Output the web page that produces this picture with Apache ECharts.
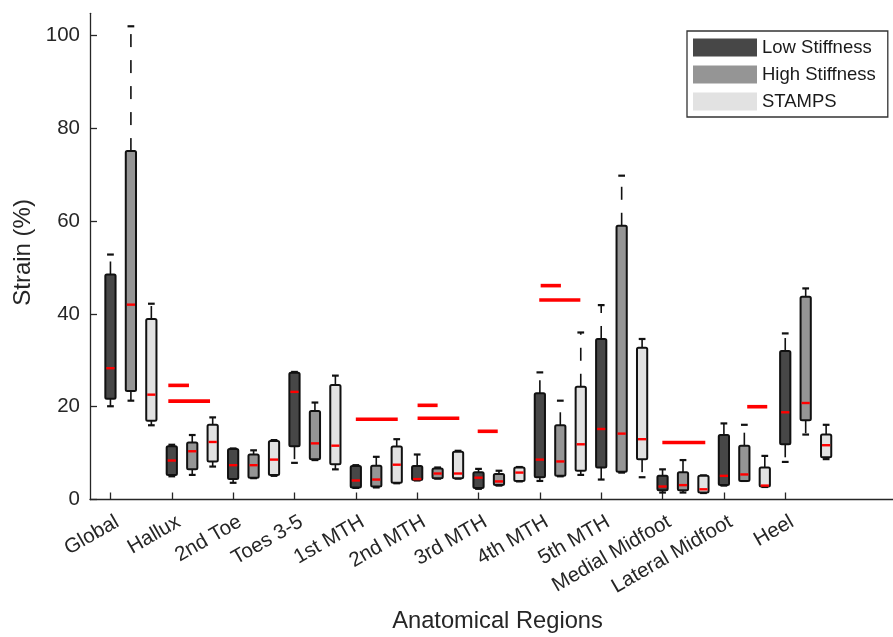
<!DOCTYPE html>
<html><head><meta charset="utf-8">
<script src="https://cdn.jsdelivr.net/npm/echarts@6/dist/echarts.min.js"></script>
<style>html,body{margin:0;padding:0;background:#fff}#c{width:893px;height:637px}</style>
</head><body><div id="c"></div>
<script>
// ---- DATA ----
const regions = ['Global','Hallux','2nd Toe','Toes 3-5','1st MTH','2nd MTH','3rd MTH','4th MTH','5th MTH','Medial Midfoot','Lateral Midfoot','Heel'];
const seriesNames = ['Low Stiffness','High Stiffness','STAMPS'];
// [lower whisker, Q1, median, Q3, upper whisker]
const lowStiffness = [
  [20.1,21.7,28.3,48.5,52.8],
  [5.0,5.3,8.4,11.5,11.8],
  [3.6,4.4,7.4,10.9,11.0],
  [7.9,11.5,23.2,27.3,27.5],
  [2.5,2.6,4.1,7.2,7.4],
  [4.1,4.2,4.4,7.2,9.7],
  [2.3,2.5,4.7,5.9,6.6],
  [4.0,4.8,8.6,22.9,27.4],
  [4.3,6.9,15.2,34.6,41.9],
  [1.5,2.0,2.8,5.1,6.5],
  [3.0,3.1,5.1,13.9,16.4],
  [8.1,11.9,18.8,32.0,35.8]
];
const highStiffness = [
  [21.3,23.4,42.0,75.1,102.0],
  [5.3,6.5,10.4,12.3,13.9],
  [4.6,4.7,7.4,9.7,10.6],
  [8.5,8.7,12.1,19.1,20.9],
  [2.6,2.8,4.3,7.3,9.2],
  [4.5,4.6,5.6,6.7,6.9],
  [3.0,3.1,3.9,5.5,6.2],
  [5.0,5.1,8.2,16.0,21.3],
  [5.8,6.0,14.2,59.0,69.8],
  [1.5,2.0,3.1,5.9,8.5],
  [4.0,4.0,5.4,11.6,16.1],
  [14.0,17.1,20.8,43.7,45.5]
];
const stamps = [
  [16.0,17.0,22.6,38.9,42.2],
  [7.1,8.2,12.4,16.1,17.7],
  [5.1,5.3,8.6,12.6,12.8],
  [6.5,7.6,11.6,24.7,26.7],
  [3.5,3.6,7.5,11.4,13.0],
  [4.5,4.6,5.6,10.3,10.5],
  [3.9,4.0,5.8,6.9,7.0],
  [5.3,6.2,11.9,24.3,36.0],
  [4.8,8.7,13.0,32.7,34.6],
  [1.4,1.5,2.2,5.1,5.2],
  [2.7,2.8,3.0,6.9,9.4],
  [8.7,9.1,11.7,14.0,16.1]
];
// reference values (red segments): [x start, x end, strain]
const referenceLines = [
  [3.83,4.84,24.6],[3.83,5.87,21.2],
  [13.0,15.05,17.3],
  [16.02,17.0,20.3],[16.02,18.06,17.5],
  [18.96,19.94,14.7],
  [22.04,23.03,46.1],[21.97,23.98,43.0],
  [27.99,30.09,12.3],
  [32.14,33.12,20.0]
];
const yTicks = [0,20,40,60,80,100];

// ---- STYLE ----
const FONT = '"Liberation Sans", Arial, Helvetica, sans-serif';
const TXT = '#262626';
const fills = ['#474747','#959595','#e2e2e2'];
const BOX_W = 0.5, CAP_W = 0.33;

function boxData(arr, offset){
  return arr.map((v,i)=>[i*3+1+offset].concat(v));
}
const xTickVals = regions.map((r,i)=>i*3+1);

function renderBox(params, api){
  const x = api.value(0);
  const unit = api.size([1,0])[0];
  const bw = BOX_W*unit, cw = CAP_W*unit;
  const pLo = api.coord([x, api.value(1)]);
  const pQ1 = api.coord([x, api.value(2)]);
  const pMed = api.coord([x, api.value(3)]);
  const pQ3 = api.coord([x, api.value(4)]);
  const pHi = api.coord([x, api.value(5)]);
  const cx = pQ1[0];
  const fill = api.visual('color');
  const wStyle = {stroke:'#111', lineWidth:1.6, lineDash:[13,13], fill:null};
  const cStyle = {stroke:'#111', lineWidth:2.2, fill:null};
  return {type:'group', children:[
    {type:'line', shape:{x1:cx,y1:pQ3[1],x2:cx,y2:pHi[1]}, style:wStyle},
    {type:'line', shape:{x1:cx,y1:pQ1[1],x2:cx,y2:pLo[1]}, style:wStyle},
    {type:'line', shape:{x1:cx-cw/2,y1:pHi[1],x2:cx+cw/2,y2:pHi[1]}, style:cStyle},
    {type:'line', shape:{x1:cx-cw/2,y1:pLo[1],x2:cx+cw/2,y2:pLo[1]}, style:cStyle},
    {type:'rect', shape:{x:cx-bw/2, y:pQ3[1], width:bw, height:pQ1[1]-pQ3[1], r:1.5}, style:{fill:fill, stroke:'#111', lineWidth:2}},
    {type:'line', shape:{x1:cx-bw/2+1,y1:pMed[1],x2:cx+bw/2-1,y2:pMed[1]}, style:{stroke:'#ff0000', lineWidth:2.4}}
  ]};
}
function renderRef(params, api){
  const a = api.coord([api.value(0), api.value(2)]);
  const b = api.coord([api.value(1), api.value(2)]);
  return {type:'line', shape:{x1:a[0],y1:a[1],x2:b[0],y2:b[1]}, style:{stroke:'#ff0000', lineWidth:3.6}};
}

const chart = echarts.init(document.getElementById('c'), null, {renderer:'canvas'});
const boxSeries = [lowStiffness, highStiffness, stamps].map((arr,k)=>({
  name: seriesNames[k], type:'custom', renderItem: renderBox,
  itemStyle:{color: fills[k]},
  dimensions:['x','lo','q1','med','q3','hi'],
  encode:{x:0, y:[1,2,3,4,5]},
  data: boxData(arr, k), z: 3
}));
chart.setOption({
  animation:false,
  backgroundColor:'#ffffff',
  textStyle:{fontFamily:FONT},
  grid:{left:90, right:0, top:13.3, bottom:137.5, containLabel:false, outerBoundsMode:'none'},
  legend:{
    data: seriesNames.map((n,k)=>({name:n, icon:'rect', itemStyle:{color:fills[k], borderWidth:0}})),
    orient:'vertical', left:687, top:31,
    itemWidth:64, itemHeight:18, itemGap:8,
    padding:[7,12,6,6],
    borderColor:'#333', borderWidth:1.3, backgroundColor:'#fff',
    textStyle:{fontFamily:FONT, fontSize:18.5, color:'#1a1a1a', lineHeight:19},
    selectedMode:false
  },
  xAxis:{
    type:'value', min:0, max:39.27,
    name:'Anatomical Regions', nameLocation:'middle', nameGap:110,
    nameTextStyle:{fontFamily:FONT, fontSize:23.7, color:TXT, padding:[0,0,0,12]},
    axisLine:{show:true, onZero:false, lineStyle:{color:TXT, width:1.3}},
    axisTick:{show:true, inside:true, length:7, customValues:xTickVals, lineStyle:{color:TXT, width:1.3}},
    axisLabel:{customValues:xTickVals, rotate:30, fontFamily:FONT, fontSize:20.5, color:TXT, margin:25,
      padding:[0,-8,0,0],
      formatter:(v)=>regions[Math.round((v-1)/3)] || ''},
    splitLine:{show:false}
  },
  yAxis:{
    type:'value', min:0, max:104.8,
    name:'Strain (%)', nameLocation:'middle', nameGap:48,
    nameTextStyle:{fontFamily:FONT, fontSize:24, color:TXT, padding:[0,0,0,8]},
    axisLine:{show:true, lineStyle:{color:TXT, width:1.3}},
    axisTick:{show:true, inside:true, length:7, customValues:yTicks, lineStyle:{color:TXT, width:1.3}},
    axisLabel:{customValues:yTicks, fontFamily:FONT, fontSize:20.5, color:TXT, margin:10},
    splitLine:{show:false}
  },
  series: boxSeries.concat([{
    name:'reference', type:'custom', renderItem: renderRef,
    dimensions:['x0','x1','y'], encode:{x:[0,1], y:2},
    data: referenceLines, z: 4, silent:true
  }])
});
</script></body></html>
